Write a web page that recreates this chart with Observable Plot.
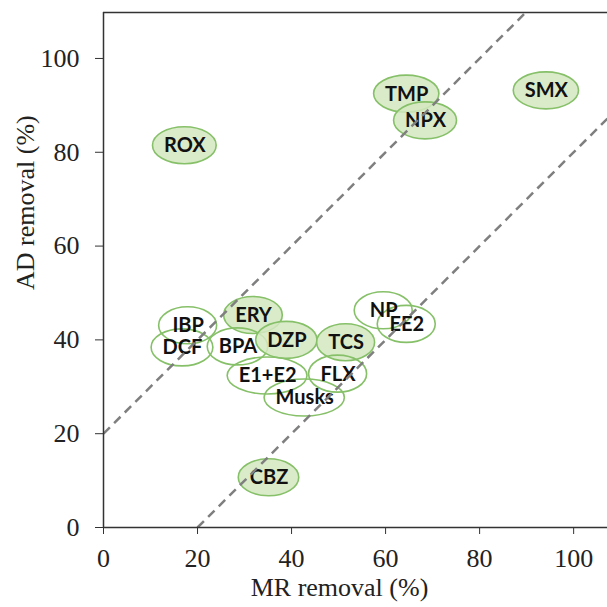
<!DOCTYPE html>
<html><head><meta charset="utf-8">
<script src="https://cdn.jsdelivr.net/npm/d3@7"></script>
<script src="https://cdn.jsdelivr.net/npm/@observablehq/plot@0.6"></script>
<style>body{margin:0;background:#fff}</style>
</head><body><div id="chart"></div>
<script>
const compounds = ["ROX","TMP","NPX","SMX","IBP","DCF","ERY","BPA","DZP","TCS","NP","EE2","E1+E2","FLX","Musks","CBZ"];
const mrRemoval = [17.3,64.5,68.5,94.2,18.0,16.8,31.9,28.6,39.0,51.6,59.6,64.5,34.9,49.9,42.8,35.2];
const adRemoval = [81.4,92.4,86.7,93.1,43.0,38.3,45.2,38.5,39.9,39.4,46.2,43.3,32.3,32.7,27.6,10.6];
const groups = ["filled","filled","filled","filled","open","open","filled","open","filled","filled","open","open","open","open","open","filled"];
const xTicks = [0,20,40,60,80,100];
const yTicks = [0,20,40,60,80,100];
const lineOffsets = [20,-20];
const xLabel = "MR removal (%)";
const yLabel = "AD removal (%)";

const rows = compounds.map((name,i)=>({name, mr: mrRemoval[i], ad: adRemoval[i], group: groups[i]}));
const xMax = 107.2, yMax = 109.8;

const ctx = document.createElement("canvas").getContext("2d");
ctx.font = "bold 20px Lato";

function ellipseMark(data) {
  return Plot.dot(data, {x: "mr", y: "ad", r: 3,
    render(index, scales, values) {
      const g = d3.create("svg:g");
      for (const i of index) {
        const w = ctx.measureText(data[i].name).width;
        const f = data[i].group === "filled";
        g.append("ellipse")
          .attr("cx", values.x[i]).attr("cy", values.y[i])
          .attr("rx", Math.max(29, w/2 + 11)).attr("ry", 18.5)
          .attr("fill", f ? "#d3e8c1" : "none")
          .attr("fill-opacity", f ? 0.85 : null)
          .attr("stroke", "#86c068").attr("stroke-width", 1.6);
      }
      return g.node();
    }});
}

const chart = Plot.plot({
  width: 607, height: 607,
  marginLeft: 103, marginRight: 0, marginTop: 12, marginBottom: 80,
  x: {domain: [0, xMax]},
  y: {domain: [0, yMax]},
  style: {background: "#fff"},
  marks: [
    ellipseMark(rows),
    Plot.text(rows, {x: "mr", y: "ad", text: "name", fontFamily: "Lato", fontWeight: "bold", fontSize: 20, fill: "#111"}),
    Plot.link(lineOffsets, {x1: d => Math.max(0,-d), y1: d => Math.max(0,-d)+d, x2: () => xMax+10, y2: d => xMax+10+d,
      clip: true, stroke: "#7f7f7f", strokeWidth: 2.5, strokeDasharray: "9,6"}),
    Plot.ruleX([0], {stroke: "#333", strokeWidth: 1.5}),
    Plot.ruleY([0], {stroke: "#333", strokeWidth: 1.5}),
    Plot.ruleY([yMax], {stroke: "#333", strokeWidth: 1.5}),
    Plot.axisX({ticks: xTicks, tickSize: 7, tickPadding: 14, label: null, fontSize: 26, fontFamily: "Liberation Serif", stroke: "#333", color: "#222"}),
    Plot.axisY({ticks: yTicks, tickSize: 8, tickPadding: 16, label: null, fontSize: 26, fontFamily: "Liberation Serif", stroke: "#333", color: "#222"}),
    Plot.text([xLabel], {frameAnchor: "bottom", dx: -16, dy: 68, text: d => d, fontSize: 26, fontFamily: "Liberation Serif", fill: "#222"}),
    Plot.text([yLabel], {frameAnchor: "left", dx: -78, dy: 20, rotate: -90, text: d => d, fontSize: 26, fontFamily: "Liberation Serif", fill: "#222"})
  ]
});
document.getElementById("chart").appendChild(chart);
</script>
</body></html>
